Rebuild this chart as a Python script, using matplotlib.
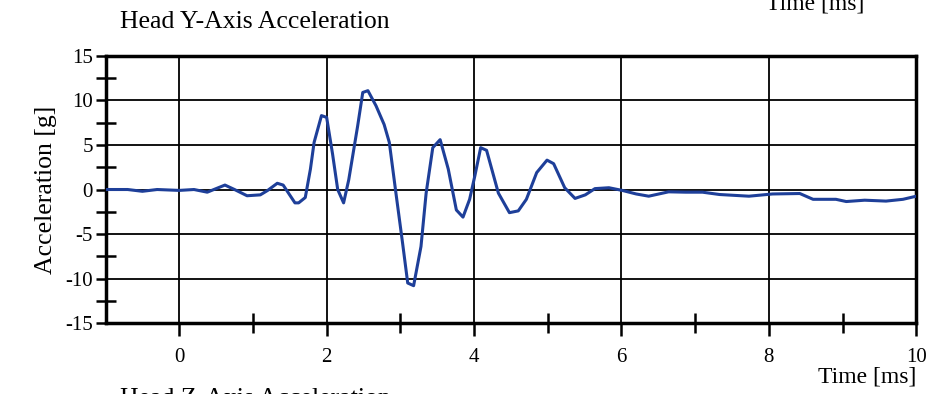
import matplotlib
matplotlib.use('Agg')
import matplotlib.pyplot as plt
from matplotlib.ticker import MultipleLocator, FixedLocator
import numpy as np

# time [ms] and head y-axis acceleration [g]
t = [-1.0, -0.7, -0.5, -0.3, 0.0, 0.2, 0.38, 0.62, 0.75, 0.92, 1.1, 1.2, 1.33, 1.41,
     1.57, 1.62, 1.71, 1.78, 1.83, 1.93, 2.0, 2.08, 2.15, 2.23, 2.30, 2.42, 2.49, 2.56,
     2.67, 2.78, 2.85, 2.94, 3.03, 3.10, 3.18, 3.28, 3.35, 3.44, 3.54, 3.65, 3.76, 3.85,
     3.94, 4.01, 4.09, 4.17, 4.33, 4.48, 4.60, 4.71, 4.85, 4.99, 5.08, 5.23, 5.37, 5.51,
     5.64, 5.83, 6.01, 6.2, 6.37, 6.64, 6.87, 7.1, 7.33, 7.73, 8.05, 8.42, 8.60, 8.91,
     9.05, 9.3, 9.59, 9.82, 10.0]
acc = [0.0, 0.0, -0.2, 0.0, -0.1, 0.0, -0.3, 0.5, 0.0, -0.7, -0.6, -0.1, 0.7, 0.5,
       -1.5, -1.5, -0.9, 2.3, 5.3, 8.3, 8.1, 4.0, 0.0, -1.5, 1.1, 7.1, 10.9, 11.1,
       9.4, 7.3, 5.3, -0.4, -6.0, -10.5, -10.8, -6.4, -0.4, 4.7, 5.6, 2.3, -2.3, -3.1,
       -1.1, 1.5, 4.7, 4.4, -0.4, -2.6, -2.4, -1.1, 1.9, 3.3, 2.9, 0.2, -1.0, -0.6,
       0.1, 0.2, -0.1, -0.5, -0.75, -0.26, -0.3, -0.3, -0.56, -0.75, -0.5, -0.45, -1.1, -1.1,
       -1.35, -1.2, -1.3, -1.1, -0.75]

xticks = [0, 2, 4, 6, 8, 10]
yticks = [-15, -10, -5, 0, 5, 10, 15]

plt.rcParams['font.family'] = ['Liberation Serif', 'DejaVu Serif']
plt.rcParams['axes.unicode_minus'] = False

fig = plt.figure(figsize=(9.34, 3.94), dpi=100)
ax = fig.add_axes([0.113, 0.180, 0.868, 0.678])

ax.plot(t, acc, color='#1e3f99', lw=2.2, solid_joinstyle='round', zorder=3)

ax.set_xlim(-1, 10)
ax.set_ylim(-15, 15)
ax.xaxis.set_major_locator(FixedLocator(xticks))
ax.xaxis.set_minor_locator(FixedLocator([1, 3, 5, 7, 9]))
ax.yaxis.set_major_locator(FixedLocator(yticks))
ax.yaxis.set_minor_locator(MultipleLocator(2.5))

ax.grid(which='major', color='black', lw=1.3)
for s in ax.spines.values():
    s.set_linewidth(2.5)

ax.tick_params(which='major', direction='out', length=9, width=1.8, labelsize=15, pad=9)
ax.tick_params(which='minor', direction='inout', length=14, width=1.8)
ax.tick_params(axis='y', which='major', length=7, pad=2)

ax.set_ylabel('Acceleration [g]', fontsize=18.5, labelpad=6)

fig.text(0.128, 0.929, 'Head Y-Axis Acceleration', fontsize=18.5, ha='left', va='baseline')
fig.text(0.929, 0.043, 'Time [ms]', fontsize=17, ha='center', va='center')
fig.text(0.873, 0.975, 'Time [ms]', fontsize=17, ha='center', va='baseline')
fig.text(0.128, 0.015, 'Head Z-Axis Acceleration', fontsize=18.5, ha='left', va='top')

fig.savefig('out.png', dpi=100)
